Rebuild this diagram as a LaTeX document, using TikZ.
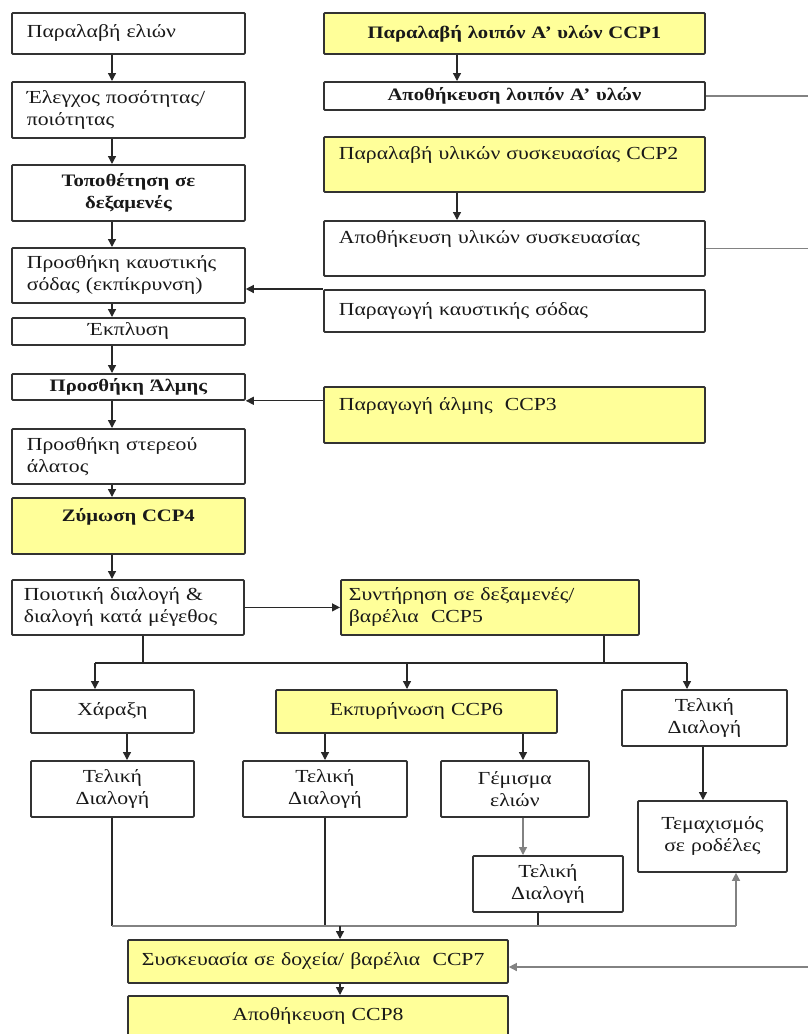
\documentclass[tikz,border=0pt]{standalone}
\usepackage{fontspec}
\setmainfont{Liberation Serif}[FakeStretch=1.18]
\usetikzlibrary{arrows.meta}
\definecolor{ccpyellow}{RGB}{255,255,153}
\definecolor{edgecol}{RGB}{50,50,50}
\definecolor{wirecol}{RGB}{40,40,40}
\definecolor{lightwire}{RGB}{130,130,130}
\newcommand{\boldtext}{\fontsize{17.5}{22}\selectfont\bfseries}
\tikzset{
  bx/.style={draw=edgecol, line width=1.8pt, rounded corners=1pt, inner sep=0pt,
    anchor=north west, font=\fontsize{18.4}{22}\selectfont, text=black!90, fill=white},
  ccpbox/.style={bx, fill=ccpyellow},
  wire/.style={draw=wirecol, line width=1.3pt},
  arr/.style={wire, -{Triangle[length=8pt,width=8pt]}},
  gwire/.style={draw=lightwire, line width=1.3pt},
  garr/.style={gwire, -{Triangle[length=8pt,width=8pt]}},
}
\begin{document}
\begin{tikzpicture}[x=1pt,y=-1pt]
\useasboundingbox[fill=white] (0,0) rectangle (808,1034);

% left column
\node[bx, minimum width=233, minimum height=41, text width=203, align=left] (L1) at (11,12) {Παραλαβή ελιών};
\node[bx, minimum width=233, minimum height=56, text width=203, align=left] (L2) at (11,81) {Έλεγχος ποσότητας/\\ποιότητας};
\node[bx, minimum width=233, minimum height=56, text width=223, align=center, font=\boldtext] (L3) at (11,164) {Τοποθέτηση σε\\δεξαμενές};
\node[bx, minimum width=233, minimum height=55, text width=203, align=left] (L4) at (11,247) {Προσθήκη καυστικής\\σόδας (εκπίκρυνση)};
\node[bx, minimum width=233, minimum height=27, text width=223, align=center] (L5) at (11,317) {Έκπλυση};
\node[bx, minimum width=233, minimum height=26, text width=223, align=center, font=\boldtext] (L6) at (11,373) {Προσθήκη Άλμης};
\node[bx, minimum width=233, minimum height=55, text width=203, align=left] (L7) at (11,428) {Προσθήκη στερεού\\άλατος};
\node[ccpbox, minimum width=233, minimum height=56, text width=223, align=center, font=\boldtext] (L8) at (11,497) {Ζύμωση CCP4\\\mbox{}};
\node[bx, minimum width=232, minimum height=55, text width=208, align=left] (L9) at (11,579) {Ποιοτική διαλογή \&\\διαλογή κατά μέγεθος};

% right column
\node[ccpbox, minimum width=381, minimum height=41, text width=371, align=center, font=\boldtext] (R1) at (323,12) {Παραλαβή λοιπόν Α’ υλών CCP1};
\node[bx, minimum width=381, minimum height=28, text width=371, align=center, font=\boldtext] (R2) at (323,81) {Αποθήκευση λοιπόν Α’ υλών};
\node[ccpbox, minimum width=381, minimum height=55, text width=351, align=left] (R3) at (323,136) {Παραλαβή υλικών συσκευασίας CCP2\\\mbox{}};
\node[bx, minimum width=381, minimum height=55, text width=351, align=left] (R4) at (323,220) {Αποθήκευση υλικών συσκευασίας\\\mbox{}};
\node[bx, minimum width=381, minimum height=42, text width=351, align=left] (R5) at (323,289) {Παραγωγή καυστικής σόδας};
\node[ccpbox, minimum width=381, minimum height=56, text width=351, align=left] (R6) at (323,386) {Παραγωγή άλμης\ \ CCP3\\\mbox{}};

% middle
\node[ccpbox, minimum width=298, minimum height=55, text width=282, align=left] (C5) at (340,579) {Συντήρηση σε δεξαμενές/\\βαρέλια\ \ CCP5};

\node[bx, minimum width=163, minimum height=43, text width=153, align=center] (xar) at (30,689) {Χάραξη};
\node[ccpbox, minimum width=281, minimum height=43, text width=271, align=center] (ekp) at (275,689) {Εκπυρήνωση CCP6};
\node[bx, minimum width=165, minimum height=56, text width=155, align=center] (td3) at (621,689) {Τελική\\Διαλογή};
\node[bx, minimum width=163, minimum height=56, text width=153, align=center] (td1) at (30,760) {Τελική\\Διαλογή};
\node[bx, minimum width=164, minimum height=56, text width=154, align=center] (td2) at (242,760) {Τελική\\Διαλογή};
\node[bx, minimum width=148, minimum height=56, text width=138, align=center] (gem) at (440,760) {Γέμισμα\\ελιών};
\node[bx, minimum width=149, minimum height=71, text width=139, align=center] (tem) at (637,800) {Τεμαχισμός\\σε ροδέλες};
\node[bx, minimum width=150, minimum height=56, text width=140, align=center] (td4) at (472,855) {Τελική\\Διαλογή};
\node[ccpbox, minimum width=380, minimum height=43, text width=352, align=left] (c7) at (127,939) {Συσκευασία σε δοχεία/ βαρέλια\ \ CCP7};
\node[ccpbox, minimum width=380, minimum height=58, text width=370, align=center] (c8) at (127,995) {Αποθήκευση CCP8\\\mbox{}};

% helper coordinates
\coordinate (lc) at (112,0);
\coordinate (rc) at (457,0);
\coordinate (edgeR) at (808,0);
\coordinate (b1) at (143,663);
\coordinate (b2) at (604,663);
\coordinate (bl) at (95,663);
\coordinate (bm) at (407,663);
\coordinate (br) at (687,663);
\coordinate (xc) at (127,0);
\coordinate (ec1) at (325,0);
\coordinate (ec2) at (523,0);
\coordinate (tc) at (703,0);
\coordinate (g4) at (538,0);
\coordinate (jl) at (112,926);
\coordinate (jr) at (736,926);
\coordinate (jd) at (340,926);
\coordinate (in7) at (808,967);

% left column arrows
\draw[arr] (L1.south -| lc) -- (L2.north -| lc);
\draw[arr] (L2.south -| lc) -- (L3.north -| lc);
\draw[arr] (L3.south -| lc) -- (L4.north -| lc);
\draw[arr] (L4.south -| lc) -- (L5.north -| lc);
\draw[arr] (L5.south -| lc) -- (L6.north -| lc);
\draw[arr] (L6.south -| lc) -- (L7.north -| lc);
\draw[arr] (L7.south -| lc) -- (L8.north -| lc);
\draw[arr] (L8.south -| lc) -- (L9.north -| lc);

% right column
\draw[arr] (R1.south -| rc) -- (R2.north -| rc);
\draw[arr] (R3.south -| rc) -- (R4.north -| rc);
\draw[gwire] (R2.east) -- (R2.east -| edgeR);
\draw[gwire] (R4.east) -- (R4.east -| edgeR);
\draw[arr] (R5.north west) -- (R5.north west -| L4.east);
\draw[arr] (L6.south east -| R6.west) -- (L6.south east);

% sorting to storage
\draw[arr] (L9.east) -- (L9.east -| C5.west);

% branching
\draw[wire] (L9.south -| b1) -- (b1);
\draw[wire] (C5.south -| b2) -- (b2);
\draw[wire] (bl) -- (br);
\draw[arr] (bl) -- (xar.north -| bl);
\draw[arr] (bm) -- (ekp.north -| bm);
\draw[arr] (br) -- (td3.north -| br);

\draw[arr] (xar.south -| xc) -- (td1.north -| xc);
\draw[arr] (ekp.south -| ec1) -- (td2.north -| ec1);
\draw[arr] (ekp.south -| ec2) -- (gem.north -| ec2);
\draw[arr] (td3.south -| tc) -- (tem.north -| tc);
\draw[garr] (gem.south -| ec2) -- (td4.north -| ec2);

% collection
\draw[wire] (td1.south -| lc) -- (jl);
\draw[wire] (td2.south -| ec1) -- (ec1 |- jl);
\draw[wire] (td4.south -| g4) -- (g4 |- jl);
\draw[gwire] (jl) -- (jr);
\draw[garr] (jr) -- (tem.south -| jr);
\draw[arr] (jd) -- (c7.north -| jd);
\draw[arr] (c7.south -| jd) -- (c8.north -| jd);
\draw[garr] (in7) -- (in7 -| c7.east);
\end{tikzpicture}
\end{document}
